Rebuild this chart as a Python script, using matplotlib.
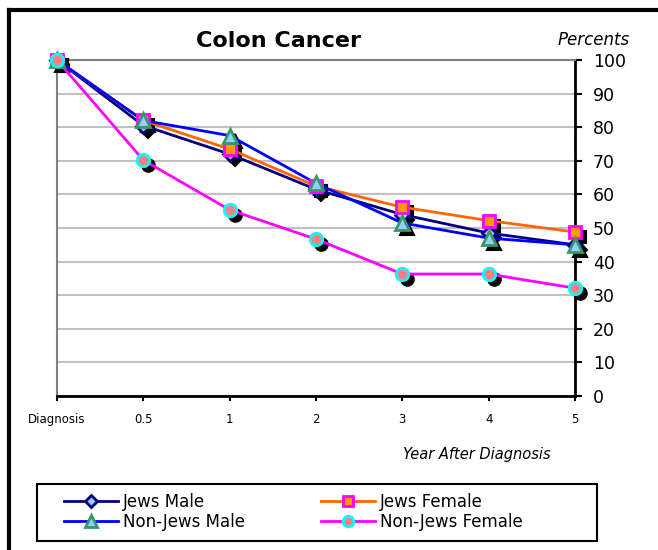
import matplotlib
matplotlib.use("Agg")
import matplotlib.pyplot as plt
import matplotlib.transforms as mtransforms
from matplotlib.lines import Line2D
from matplotlib.patches import Rectangle

# Survival data (percent) by years after diagnosis
years = ["Diagnosis", "0.5", "1", "2", "3", "4", "5"]
jews_male = [100, 80.5, 72, 61.5, 54, 48.5, 45]
jews_female = [100, 82, 73.5, 62.5, 56.2, 52.2, 48.8]
nonjews_male = [100, 82, 77.5, 63.3, 51.5, 47, 45]
nonjews_female = [100, 70.2, 55.4, 46.7, 36.3, 36.3, 32.1]

series = [
    ("Jews Male", jews_male, "#000080", "D", "#99ccff", "#000080", 7.5),
    ("Jews Female", jews_female, "#ff6600", "s", "#ff9900", "#ff00ff", 9),
    ("Non-Jews Male", nonjews_male, "#0000ff", "^", "#99ccff", "#339966", 10),
    ("Non-Jews Female", nonjews_female, "#ff00ff", "o", "#ff8080", "#00ffff", 9),
]

fig = plt.figure(figsize=(6.58, 5.5), dpi=100)
ax = fig.add_axes([0.0866, 0.28, 0.7872, 0.6109])

x = list(range(len(years)))
shadow = mtransforms.offset_copy(ax.transData, fig=fig, x=5, y=-5, units="dots")

handles = []
for i, (name, vals, lc, mk, fc, ec, ms) in enumerate(series):
    ax.plot(x, vals, linestyle="none", marker=mk, markersize=ms,
            markerfacecolor="black", markeredgecolor="black", markeredgewidth=1.5,
            transform=shadow, zorder=3 + i * 0.1, clip_on=False)
    ax.plot(x, vals, color=lc, linewidth=2, zorder=4 + i * 0.1, clip_on=False)
    ax.plot(x, vals, linestyle="none", marker=mk, markersize=ms,
            markerfacecolor=fc, markeredgecolor=ec, markeredgewidth=2,
            zorder=5 + i * 0.1, clip_on=False)
    handles.append(Line2D([], [], color=lc, linewidth=2, marker=mk,
                          markersize=ms * 0.85, markerfacecolor=fc,
                          markeredgecolor=ec, markeredgewidth=2, label=name))

ax.set_xlim(0, 6)
ax.set_ylim(0, 100)
ax.set_xticks(x)
ax.set_xticklabels(years, fontsize=8.5)
ax.set_yticks(range(0, 101, 10))
ax.yaxis.tick_right()
ax.tick_params(axis="y", labelsize=12.5, length=5, width=1.5, pad=8, direction="out")
ax.tick_params(axis="x", length=3.5, width=1.5, pad=9, direction="out")

# gridlines and plot-area border
ax.yaxis.grid(True, color="#c0c0c0", linewidth=1.5)
ax.set_axisbelow(True)
for s in ("top", "left"):
    ax.spines[s].set_color("#808080")
    ax.spines[s].set_linewidth(1.5)
for s in ("bottom", "right"):
    ax.spines[s].set_color("black")
    ax.spines[s].set_linewidth(2)

fig.text(0.423, 0.925, "Colon Cancer", fontsize=16, fontweight="bold",
         ha="center", va="center")
fig.text(0.902, 0.927, "Percents", fontsize=12, style="italic",
         ha="center", va="center")
fig.text(0.724, 0.174, "Year After Diagnosis", fontsize=10.5, style="italic",
         ha="center", va="center")

# legend with a square black frame
order = [handles[0], handles[2], handles[1], handles[3]]
fig.legend(handles=order, ncol=2, frameon=False, fontsize=12,
           loc="center left", bbox_to_anchor=(0.085, 0.069),
           handlelength=3.2, handletextpad=0.3, columnspacing=4.6,
           labelspacing=0.15, borderpad=0, numpoints=1)
fig.patches.append(Rectangle((37 / 658, 9 / 550), 560 / 658, 57 / 550,
                             transform=fig.transFigure, fill=False,
                             edgecolor="black", linewidth=1.5))

# outer chart border (left and top edges)
fig.add_artist(Line2D([9 / 658, 9 / 658], [0, 540 / 550], color="black",
                      linewidth=3, transform=fig.transFigure))
fig.add_artist(Line2D([9 / 658, 1], [540 / 550, 540 / 550], color="black",
                      linewidth=3, transform=fig.transFigure))

fig.savefig("out.png", dpi=100)
